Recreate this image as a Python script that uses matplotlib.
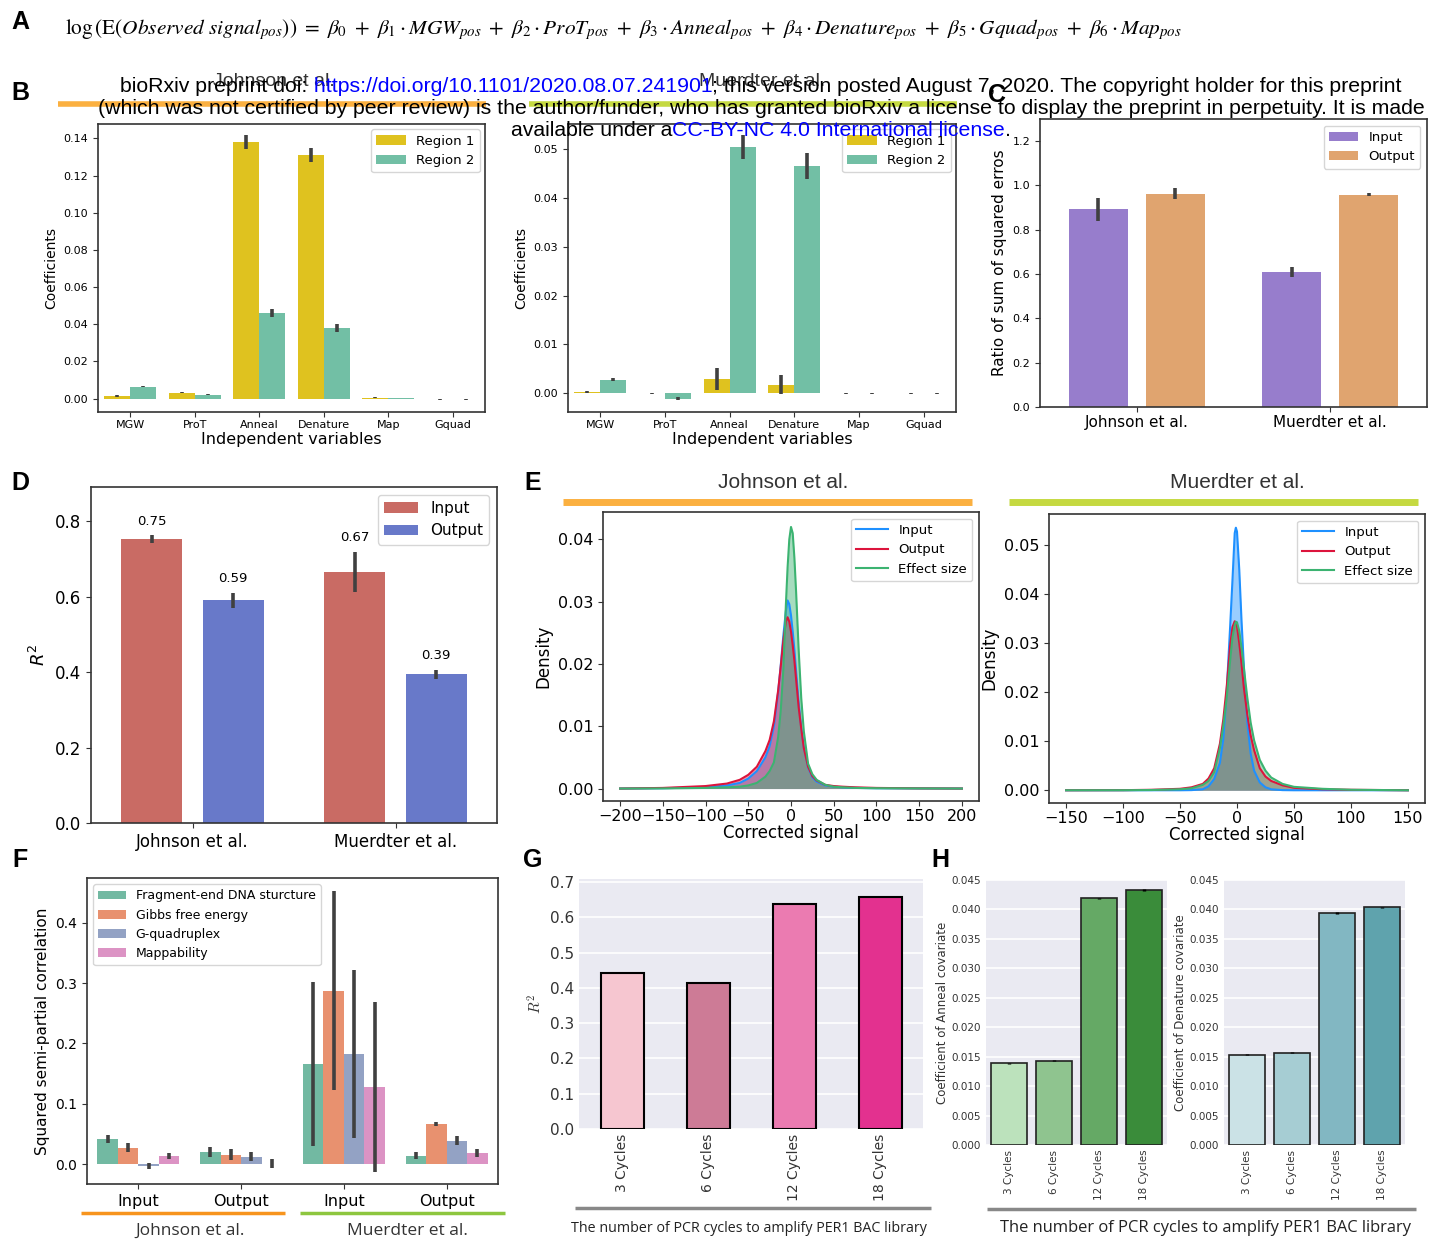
import numpy as np
import matplotlib
matplotlib.use('Agg')
import matplotlib.pyplot as plt
from matplotlib.lines import Line2D

# ---------------- data ----------------
variables = ['MGW', 'ProT', 'Anneal', 'Denature', 'Map', 'Gquad']
johnson_r1 = [0.0016, 0.0032, 0.138, 0.131, 0.0005, -0.0003]
johnson_r1_err = [0.0005, 0.0004, 0.0037, 0.0037, 0.0002, 0.0002]
johnson_r2 = [0.0064, 0.0021, 0.0462, 0.0381, 0.0003, -0.0003]
johnson_r2_err = [0.0004, 0.0004, 0.0022, 0.0022, 0.0002, 0.0002]
muerdter_r1 = [0.0002, -0.0001, 0.0029, 0.0017, -0.0001, -0.0001]
muerdter_r1_err = [0.0002, 0.0001, 0.0023, 0.0020, 0.0001, 0.0001]
muerdter_r2 = [0.0027, -0.0012, 0.0505, 0.0466, -0.0001, -0.0001]
muerdter_r2_err = [0.0003, 0.0003, 0.0024, 0.0026, 0.0001, 0.0001]

studies = ['Johnson et al.', 'Muerdter et al.']
sse_input = [0.892, 0.611]
sse_input_err = [0.053, 0.022]
sse_output = [0.963, 0.959]
sse_output_err = [0.025, 0.006]

r2_input = [0.753, 0.666]
r2_input_err = [0.010, 0.053]
r2_output = [0.591, 0.394]
r2_output_err = [0.020, 0.012]

# density curves
ej_x = [-200, -150, -100, -75, -60, -50, -40, -30, -25, -20, -15, -12, -9, -6, -4, -2, 0,
        2, 4, 6, 9, 12, 15, 20, 25, 30, 40, 50, 60, 75, 100, 150, 200]
ej_input = [0, 0.00005, 0.0002, 0.0005, 0.0009, 0.0016, 0.0028, 0.005, 0.0068, 0.010, 0.0155,
            0.0198, 0.0245, 0.0285, 0.0302, 0.0296, 0.0278, 0.0252, 0.0222, 0.0188, 0.0138,
            0.0098, 0.0066, 0.0034, 0.0018, 0.0011, 0.0005, 0.0003, 0.0002, 0.0001, 0.00005,
            0.00002, 0]
ej_output = [0, 0.0001, 0.0004, 0.0008, 0.0014, 0.0022, 0.0035, 0.006, 0.0078, 0.0108, 0.0158,
             0.0196, 0.0237, 0.0268, 0.0275, 0.0268, 0.0252, 0.0230, 0.0205, 0.0175, 0.0130,
             0.0096, 0.0065, 0.0035, 0.0020, 0.0013, 0.0006, 0.0004, 0.0003, 0.0002, 0.0001,
             0.00003, 0]
ej_effect = [0, 0.00002, 0.0001, 0.0002, 0.0003, 0.0005, 0.0009, 0.0019, 0.0028, 0.0042, 0.0083,
             0.0125, 0.0190, 0.0295, 0.0355, 0.0400, 0.0420, 0.0410, 0.0370, 0.0315, 0.0222,
             0.0145, 0.0092, 0.0040, 0.0023, 0.0014, 0.0006, 0.0003, 0.0002, 0.0001, 0.00005,
             0.00002, 0]

em_x = [-150, -100, -75, -50, -40, -30, -25, -20, -15, -12, -9, -6, -4, -2, -1, 0, 2, 4, 6,
        9, 12, 15, 20, 25, 30, 40, 50, 75, 100, 150]
em_input = [0, 0, 0, 0, 0.00003, 0.0002, 0.0008, 0.0023, 0.0056, 0.0105, 0.0204, 0.0335, 0.0428,
            0.0525, 0.0536, 0.0528, 0.0450, 0.0345, 0.0255, 0.0140, 0.0075, 0.0040, 0.0016,
            0.0006, 0.0002, 0.00003, 0, 0, 0, 0]
em_output = [0, 0.00002, 0.0001, 0.0003, 0.0006, 0.0013, 0.0024, 0.0045, 0.0095, 0.0145, 0.0212,
             0.0296, 0.0333, 0.0345, 0.0342, 0.0335, 0.0300, 0.0258, 0.0210, 0.0155, 0.0112,
             0.0082, 0.0045, 0.0028, 0.0019, 0.0010, 0.0005, 0.0002, 0.0001, 0]
em_effect = [0, 0.00001, 0.00005, 0.0002, 0.0004, 0.0011, 0.0019, 0.0037, 0.0086, 0.0132, 0.0190,
             0.0265, 0.0312, 0.0338, 0.0344, 0.0343, 0.0325, 0.0290, 0.0250, 0.0190, 0.0138,
             0.0102, 0.0062, 0.0040, 0.0026, 0.0013, 0.0007, 0.0003, 0.0001, 0]

f_groups = ['Input', 'Output', 'Input', 'Output']
f_features = ['Fragment-end DNA sturcture', 'Gibbs free energy', 'G-quadruplex', 'Mappability']
f_frag = [0.0414, 0.0204, 0.166, 0.0138]
f_frag_err = [0.006, 0.008, 0.136, 0.0055]
f_gibbs = [0.027, 0.0155, 0.287, 0.0669]
f_gibbs_err = [0.0077, 0.009, 0.165, 0.003]
f_gquad = [-0.003, 0.0122, 0.183, 0.0387]
f_gquad_err = [0.005, 0.007, 0.139, 0.0077]
f_map = [0.0138, 0.0006, 0.128, 0.0188]
f_map_err = [0.005, 0.0077, 0.141, 0.0066]

cycles = ['3 Cycles', '6 Cycles', '12 Cycles', '18 Cycles']
g_r2 = [0.442, 0.414, 0.638, 0.657]
h_anneal = [0.0139, 0.0143, 0.0419, 0.0433]
h_denature = [0.0153, 0.0157, 0.0394, 0.0404]
h_err = [0.0001, 0.0001, 0.0001, 0.0001]

# ---------------- figure ----------------
W, H = 1443, 1241
fig = plt.figure(figsize=(W / 100, H / 100), dpi=100)
plt.rcParams['font.family'] = ['DejaVu Sans']
ERR = '#404040'


def fx(x):
    return x / W


def fy(y):
    return 1 - y / H


def box(l, t, r, b):
    return fig.add_axes([l / W, 1 - b / H, (r - l) / W, (b - t) / H])


def style(ax, size):
    for s in ax.spines.values():
        s.set_color('#333333')
        s.set_linewidth(1.2)
    ax.tick_params(labelsize=size, direction='out', length=3.5, color='#333333')


def dodge_bars(ax, series, errs, colors, labels, width, offsets):
    x = np.arange(len(series[0]))
    for vals, e, c, off, lab in zip(series, errs, colors, offsets, labels):
        ax.bar(x + off, vals, width, color=c, label=lab)
        ax.errorbar(x + off, vals, yerr=e, fmt='none', ecolor=ERR, elinewidth=2.6, capsize=0)
    return x


def hline(x0, x1, y, color, lw):
    fig.add_artist(Line2D([fx(x0), fx(x1)], [fy(y), fy(y)], transform=fig.transFigure,
                          color=color, lw=lw, solid_capstyle='butt'))


# ---- B ----
for (l, t, r, b), r1, e1, r2, e2, ylim in [
        ((98, 124, 485, 412), johnson_r1, johnson_r1_err, johnson_r2, johnson_r2_err, (-0.0072, 0.1477)),
        ((568, 124, 956, 412), muerdter_r1, muerdter_r1_err, muerdter_r2, muerdter_r2_err, (-0.0039, 0.0552))]:
    ax = box(l, t, r, b)
    x = dodge_bars(ax, [r1, r2], [e1, e2], ['#dfc21f', '#72bfa5'], ['Region 1', 'Region 2'], 0.4, [-0.2, 0.2])
    ax.set_xticks(x)
    ax.set_xticklabels(variables)
    ax.set_xlim(-0.5, 5.5)
    ax.set_ylim(*ylim)
    ax.set_ylabel('Coefficients', fontsize=10)
    ax.set_xlabel('Independent variables', fontsize=11.5, labelpad=1)
    style(ax, 8)
    ax.tick_params(axis='x', pad=2.5)
    ax.legend(loc='upper right', fontsize=9.5, handlelength=2.2, borderaxespad=0.4)

# ---- C ----
ax = box(1040, 119, 1427, 407)
x = dodge_bars(ax, [sse_input, sse_output], [sse_input_err, sse_output_err], ['#977dcc', '#e0a46f'],
               ['Input', 'Output'], 0.305, [-0.2, 0.2])
ax.set_xticks(x)
ax.set_xticklabels(studies, fontsize=11)
ax.set_xlim(-0.5, 1.5)
ax.set_ylim(0, 1.3)
ax.set_yticks(np.arange(0, 1.21, 0.2))
ax.set_ylabel('Ratio of sum of squared erros', fontsize=11)
style(ax, 8)
ax.tick_params(axis='x', labelsize=11, pad=2.5)
ax.legend(loc='upper right', fontsize=9.5, handlelength=2.2)

# ---- D ----
ax = box(91, 487, 497, 823)
x = dodge_bars(ax, [r2_input, r2_output], [r2_input_err, r2_output_err], ['#c96b64', '#6879c9'],
               ['Input', 'Output'], 0.3, [-0.2, 0.2])
for vals, errs, off in [(r2_input, r2_input_err, -0.2), (r2_output, r2_output_err, 0.2)]:
    for i, (v, e) in enumerate(zip(vals, errs)):
        ax.text(i + off, v + e + 0.037, f'{v:.2f}', ha='center', va='center', fontsize=9.5)
ax.set_xticks(x)
ax.set_xticklabels(studies)
ax.set_xlim(-0.5, 1.5)
ax.set_ylim(0, 0.891)
ax.set_yticks(np.arange(0, 0.81, 0.2))
ax.set_ylabel('$R^2$', fontsize=13)
style(ax, 12)
ax.legend(loc='upper right', fontsize=11, handlelength=2.2)

# ---- E ----
kde_colors = ['#1e90ff', '#dc143c', '#3cb371']
kde_labels = ['Input', 'Output', 'Effect size']
for (l, t, r, b), xs, curves, xlim, ylim, xt, yt in [
        ((603, 512, 979, 801), ej_x, [ej_input, ej_output, ej_effect], (-220, 220), (-0.002, 0.0444),
         np.arange(-200, 201, 50), np.arange(0, 0.041, 0.01)),
        ((1049, 514, 1425, 803), em_x, [em_input, em_output, em_effect], (-165, 165), (-0.0026, 0.0564),
         np.arange(-150, 151, 50), np.arange(0, 0.051, 0.01))]:
    ax = box(l, t, r, b)
    for ys, c, lab in zip(curves, kde_colors, kde_labels):
        ax.fill_between(xs, ys, color=c, alpha=0.45, lw=0)
        ax.plot(xs, ys, color=c, lw=1.5, label=lab)
    ax.set_xlim(*xlim)
    ax.set_ylim(*ylim)
    ax.set_xticks(xt)
    ax.set_yticks(yt)
    ax.set_xlabel('Corrected signal', fontsize=12, labelpad=0)
    ax.set_ylabel('Density', fontsize=12)
    style(ax, 11.5)
    ax.tick_params(axis='x', pad=2)
    ax.legend(loc='upper right', fontsize=9.5, handlelength=2.4)

# ---- F ----
ax = box(87, 878, 498, 1184)
x = dodge_bars(ax, [f_frag, f_gibbs, f_gquad, f_map], [f_frag_err, f_gibbs_err, f_gquad_err, f_map_err],
               ['#72b9a2', '#e8916f', '#93a2c4', '#dc93c4'], f_features, 0.2, [-0.3, -0.1, 0.1, 0.3])
ax.set_xticks(x)
ax.set_xticklabels(f_groups)
ax.set_xlim(-0.5, 3.5)
ax.set_ylim(-0.033, 0.474)
ax.set_yticks(np.arange(0, 0.41, 0.1))
ax.set_ylabel('Squared semi-partial correlation', fontsize=11)
style(ax, 10)
ax.tick_params(axis='x', labelsize=11.5)
ax.legend(loc='upper left', fontsize=9, handlelength=2.2)


def dark(ax, size):
    ax.set_facecolor('#eaeaf2')
    ax.grid(axis='y', color='white', lw=1.2)
    ax.set_axisbelow(True)
    for s in ax.spines.values():
        s.set_visible(False)
    ax.tick_params(length=0, labelsize=size, labelcolor='#333333')


# ---- G ----
ax = box(579, 879, 923, 1129)
x = np.arange(len(cycles))
ax.bar(x, g_r2, 0.5, color=['#f6c6d0', '#cd7b96', '#eb7bb1', '#e3318f'], edgecolor='black', lw=1.5)
ax.set_xticks(x)
ax.set_xticklabels(cycles, rotation=90)
ax.set_xlim(-0.5, 3.5)
ax.set_ylim(0, 0.709)
ax.set_yticks(np.arange(0, 0.71, 0.1))
dark(ax, 11)
ax.tick_params(axis='x', labelsize=10)
ax.set_ylabel('$R^2$', fontsize=11, math_fontfamily='cm', color='#333333')

# ---- H ----
for (l, t, r, b), vals, cols, lab in [
        ((986, 880, 1167, 1145), h_anneal, ['#bce2bc', '#8fc48f', '#65a965', '#3a8c3a'],
         'Coefficient of Anneal covariate'),
        ((1224, 880, 1405, 1145), h_denature, ['#cbe2e6', '#a6cdd3', '#82b7c2', '#5fa3ad'],
         'Coefficient of Denature covariate')]:
    ax = box(l, t, r, b)
    ax.bar(x, vals, 0.8, color=cols, edgecolor='#222222', lw=1.2)
    ax.errorbar(x, vals, yerr=h_err, fmt='none', ecolor='black', elinewidth=2.5, capsize=0)
    ax.set_xticks(x)
    ax.set_xticklabels(cycles, rotation=90)
    ax.set_xlim(-0.5, 3.5)
    ax.set_ylim(0, 0.045)
    ax.set_yticks(np.arange(0, 0.0451, 0.005))
    ax.set_yticklabels([f'{v:.3f}' for v in np.arange(0, 0.0451, 0.005)])
    dark(ax, 7.5)
    ax.set_ylabel(lab, fontsize=8.5, color='#333333', labelpad=2)

# ---------------- annotations ----------------
for letter, px, py in [('A', 20, 22), ('B', 20, 93), ('C', 997, 95), ('D', 20, 483),
                       ('E', 533, 483), ('F', 20, 860), ('G', 533, 860), ('H', 940, 860)]:
    fig.text(fx(px), fy(py), letter, fontsize=18, fontweight='bold', family='Liberation Sans',
             ha='center', va='center')

renderer = fig.canvas.get_renderer()

eq = (r'$\log\left(\mathrm{E}\left(Observed\ signal_{pos}\right)\right)\ =\ \beta_0\ +\ \beta_1 \cdot MGW_{pos}'
      r'\ +\ \beta_2 \cdot ProT_{pos}\ +\ \beta_3 \cdot Anneal_{pos}\ +\ \beta_4 \cdot Denature_{pos}'
      r'\ +\ \beta_5 \cdot Gquad_{pos}\ +\ \beta_6 \cdot Map_{pos}$')
t = fig.text(fx(65), fy(30), eq, fontsize=10, math_fontfamily='stix', ha='left', va='center')
t.set_fontsize(10 * 1115 / t.get_window_extent(renderer).width)

# section headers for B
fig.text(fx(274), fy(82), 'Johnson et al.', fontsize=14, family='Liberation Sans', ha='center', va='center', color='#333333')
fig.text(fx(762), fy(82), 'Muerdter et al.', fontsize=14, family='Liberation Sans', ha='center', va='center', color='#333333')
hline(58, 486, 104, '#fbb040', 4)
hline(529, 957, 104, '#c5d941', 4)

# section headers for E
fig.text(fx(783), fy(483), 'Johnson et al.', fontsize=15, family='Liberation Sans', ha='center', va='center', color='#333333')
fig.text(fx(1237), fy(483), 'Muerdter et al.', fontsize=15, family='Liberation Sans', ha='center', va='center', color='#333333')
hline(563, 972, 502, '#fbb040', 5)
hline(1009, 1418, 502, '#c5d941', 5)

# group labels under F
hline(81, 285, 1213, '#f7941d', 2.5)
hline(300, 505, 1213, '#8dc63f', 2.5)
fig.text(fx(190), fy(1231), 'Johnson et al.', fontsize=12.5, family='Open Sans', ha='center', va='center', color='#333333')
fig.text(fx(407), fy(1231), 'Muerdter et al.', fontsize=12.5, family='Open Sans', ha='center', va='center', color='#333333')

# axis captions under G and H
hline(575, 931, 1208, '#888888', 2.5)
hline(987, 1416, 1209, '#888888', 2.5)
cap = 'The number of PCR cycles to amplify PER1 BAC library'
t = fig.text(fx(749), fy(1228), cap, fontsize=10, family='Open Sans', ha='center', va='center', color='#222222')
t.set_fontsize(10 * 356 / t.get_window_extent(renderer).width)
t = fig.text(fx(1205), fy(1228), cap, fontsize=10, family='Open Sans', ha='center', va='center', color='#222222')
t.set_fontsize(10 * 413 / t.get_window_extent(renderer).width)

# bioRxiv watermark
wm_lines = [
    (87, [('bioRxiv preprint doi:', 'black'), (' https://doi.org/10.1101/2020.08.07.241901', 'blue'),
          ('; this version posted August 7, 2020. The copyright holder for this preprint', 'black')]),
    (108, [('(which was not certified by peer review) is the author/funder, who has granted bioRxiv a license '
            'to display the preprint in perpetuity. It is made', 'black')]),
    (130, [('available under a', 'black'), ('CC-BY-NC 4.0 International license', 'blue'), ('.', 'black')]),
]
probe = fig.text(0, 0, wm_lines[1][1][0][0], fontsize=10, family='Liberation Sans')
wm_size = 10 * 1335 / probe.get_window_extent(renderer).width
probe.remove()
for py, parts in wm_lines:
    arts = [fig.text(0, fy(py), s, color=c, fontsize=wm_size, family='Liberation Sans', va='center', zorder=10)
            for s, c in parts]
    widths = [a.get_window_extent(renderer).width for a in arts]
    cx = 761 - sum(widths) / 2
    for a, w in zip(arts, widths):
        a.set_x(fx(cx))
        cx += w

fig.savefig('out.png', dpi=100)
